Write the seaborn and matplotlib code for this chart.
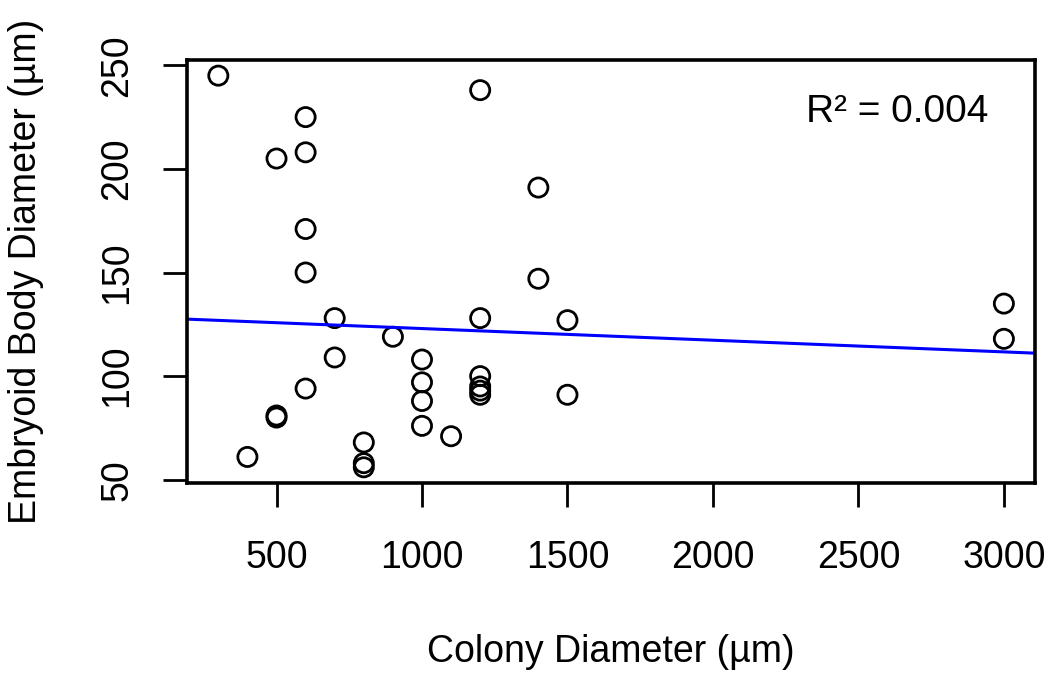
import matplotlib
matplotlib.use("Agg")
import matplotlib.pyplot as plt
import seaborn as sns
import pandas as pd
import numpy as np

# colony diameter (um) and embryoid body diameter (um)
colony = [300, 600, 500, 600, 600, 600, 700, 900, 700, 600, 500, 500, 400,
          800, 800, 800, 1000, 1000, 1000, 1000, 1100, 1200, 1200, 1200,
          1200, 1200, 1200, 1400, 1400, 1500, 1500, 3000, 3000]
eb = [245, 225, 205, 208, 171, 150, 128, 119, 109, 94, 80, 81, 61,
      68, 58, 56, 108, 97, 88, 76, 71, 238, 128, 100, 95, 93, 91,
      191, 147, 127, 91, 135, 118]
xticks = [500, 1000, 1500, 2000, 2500, 3000]
yticks = [50, 100, 150, 200, 250]
r2_label = "R\u00b2 = 0.004"

df = pd.DataFrame({"colony": colony, "eb": eb})

sns.set_style("white")
plt.rcParams['font.family'] = ['Liberation Sans', 'DejaVu Sans']
plt.rcParams['text.color'] = 'black'
plt.rcParams['axes.labelcolor'] = 'black'
plt.rcParams['xtick.color'] = 'black'
plt.rcParams['ytick.color'] = 'black'

fig = plt.figure(figsize=(10.5, 6.77), dpi=100)
ax = fig.add_axes([0.178, 0.2866, 0.808, 0.6248])

# R style 4% padding around the data
xr = max(colony) - min(colony)
yr = max(eb) - min(eb)
xlim = (min(colony) - 0.04 * xr, max(colony) + 0.04 * xr)
ax.set_xlim(*xlim)
ax.set_ylim(min(eb) - 0.04 * yr, max(eb) + 0.04 * yr)

sns.scatterplot(data=df, x="colony", y="eb", ax=ax, marker="o", s=190,
                facecolor="none", edgecolor="black", linewidth=2.0)
sns.regplot(data=df, x="colony", y="eb", ax=ax, scatter=False, ci=None,
            truncate=False, line_kws={"color": "#0000ff", "lw": 2.2})
ax.set_xlim(*xlim)

ax.set_xticks(xticks)
ax.set_yticks(yticks)
ax.tick_params(axis="both", direction="out", length=17, width=2.0,
               labelsize=27, labelcolor="black", pad=20, bottom=True, left=True)
ax.tick_params(axis="x", pad=24)
for lab in ax.get_yticklabels():
    lab.set_rotation(90)
    lab.set_va("center")
for sp in ax.spines.values():
    sp.set_linewidth(2.6)
    sp.set_color("black")

ax.set_xlabel("Colony Diameter (\u00b5m)", fontsize=27, labelpad=42)
ax.set_ylabel("Embryoid Body Diameter (\u00b5m)", fontsize=27, labelpad=40)

ax.text(0.945, 0.877, r2_label, transform=ax.transAxes, ha="right",
        va="center", fontsize=28)

fig.savefig("out.png", dpi=100)
